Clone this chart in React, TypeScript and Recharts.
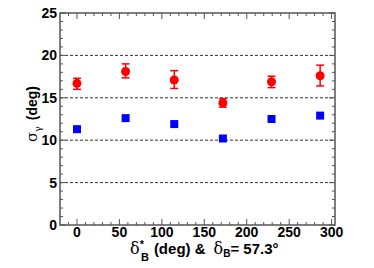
import React from 'react';
import { ScatterChart, Scatter, XAxis, YAxis, ErrorBar, ReferenceLine, ReferenceArea } from 'recharts';

// delta*_B values (deg)
const deltaB = [0, 57.3, 114.6, 171.9, 229.2, 286.5];
// red points with asymmetric error bars
const sigmaRed = [16.7, 18.1, 17.1, 14.4, 16.9, 17.6];
const sigmaRedLow = [16.0, 17.35, 16.1, 13.9, 16.2, 16.4];
const sigmaRedHigh = [17.3, 19.0, 18.2, 14.9, 17.55, 18.85];
// blue squares
const sigmaBlue = [11.3, 12.6, 11.9, 10.2, 12.5, 12.9];

const xMajor = [0, 50, 100, 150, 200, 250, 300];
const yMajor = [0, 5, 10, 15, 20, 25];
const gridY = [5, 10, 15, 20];

const xTicks: number[] = [];
for (let v = -10; v <= 300; v += 10) xTicks.push(v);
const yTicks: number[] = [];
for (let v = 0; v <= 25; v += 1) yTicks.push(v);

const redData = deltaB.map((x, i) => ({
  x,
  y: sigmaRed[i],
  err: [sigmaRed[i] - sigmaRedLow[i], sigmaRedHigh[i] - sigmaRed[i]],
}));
const blueData = deltaB.map((x, i) => ({ x, y: sigmaBlue[i] }));

const W = 374;
const H = 268;
const PLOT_W = 275;
const PLOT_H = 212;
const FRAME = '#555';
const FONT = 'Liberation Sans, Arial, Helvetica, sans-serif';
const GREEK = 'DejaVu Serif, serif';

const XTick = (props: any) => {
  const { x, y, payload } = props;
  const v = payload.value;
  const major = xMajor.includes(v);
  const len = major ? 6 : 3;
  return (
    <g>
      <line x1={x} x2={x} y1={y} y2={y - len} stroke={FRAME} strokeWidth={1} />
      <line x1={x} x2={x} y1={y - PLOT_H} y2={y - PLOT_H + len} stroke={FRAME} strokeWidth={1} />
      {major && (
        <text x={x} y={y + 12} textAnchor="middle" fontFamily={FONT} fontWeight="bold" fontSize={14} fill="#000">
          {v}
        </text>
      )}
    </g>
  );
};

const YTick = (props: any) => {
  const { x, y, payload } = props;
  const v = payload.value;
  const major = yMajor.includes(v);
  const len = major ? 6 : 3;
  return (
    <g>
      <line x1={x} x2={x + len} y1={y} y2={y} stroke={FRAME} strokeWidth={1} />
      <line x1={x + PLOT_W} x2={x + PLOT_W - len} y1={y} y2={y} stroke={FRAME} strokeWidth={1} />
      {major && (
        <text x={x - 3} y={y + 5} textAnchor="end" fontFamily={FONT} fontWeight="bold" fontSize={14} fill="#000">
          {v}
        </text>
      )}
    </g>
  );
};

const XLabel = () => (
  <text x={130} y={254} fontFamily={FONT} fontWeight="bold" fontSize={15} fill="#000">
    <tspan fontWeight="normal" fontFamily={GREEK} fontSize={16}>δ</tspan>
    <tspan fontSize={11} dy={-6}>*</tspan>
    <tspan fontSize={11} dx={-3} dy={13}>B</tspan>
    <tspan dy={-7} dx={5}>(deg) &amp;</tspan>
    <tspan fontWeight="normal" fontFamily={GREEK} fontSize={16} dx={8}>δ</tspan>
    <tspan fontSize={10} dy={3}>B</tspan>
    <tspan dy={-3}>= 57.3°</tspan>
  </text>
);

const YLabel = () => (
  <text
    x={0}
    y={0}
    transform="translate(37,114) rotate(-90)"
    textAnchor="middle"
    fontFamily={FONT}
    fontWeight="bold"
    fontSize={14}
    fill="#000"
  >
    <tspan fontWeight="normal" fontFamily={GREEK} fontSize={15}>σ</tspan>
    <tspan fontSize={9} fontWeight="normal" fontFamily={GREEK} dy={4}>γ</tspan>
    <tspan dy={-4} dx={6}>(deg)</tspan>
  </text>
);

export default function App() {
  return (
    <div style={{ width: W, height: H, background: '#fff' }}>
      <style>{'body{margin:0}'}</style>
      <ScatterChart width={W} height={H} margin={{ top: 13, right: 39, bottom: 0, left: 0 }}>
        <XAxis
          type="number"
          dataKey="x"
          domain={[-20, 304]}
          ticks={xTicks}
          interval={0}
          allowDataOverflow
          tickSize={0}
          tickMargin={0}
          axisLine={false}
          tick={<XTick />}
          height={43}
          label={{ content: () => <XLabel /> }}
        />
        <YAxis
          type="number"
          dataKey="y"
          domain={[0, 25]}
          ticks={yTicks}
          interval={0}
          allowDataOverflow
          tickSize={0}
          tickMargin={0}
          axisLine={false}
          tick={<YTick />}
          width={60}
          label={{ content: () => <YLabel /> }}
        />
        {gridY.map((g) => (
          <ReferenceLine key={g} y={g} stroke="#333" strokeDasharray="3 2" strokeWidth={1} />
        ))}
        <ReferenceArea x1={-20} x2={304} y1={0} y2={25} fill="none" stroke={FRAME} strokeWidth={1.5} />
        <Scatter data={redData} fill="#ff0000" shape="circle" isAnimationActive={false}>
          <ErrorBar dataKey="err" direction="y" width={4} stroke="#ff0000" strokeWidth={1.5} />
        </Scatter>
        <Scatter data={blueData} fill="#0000ff" shape="square" isAnimationActive={false} />
      </ScatterChart>
    </div>
  );
}
